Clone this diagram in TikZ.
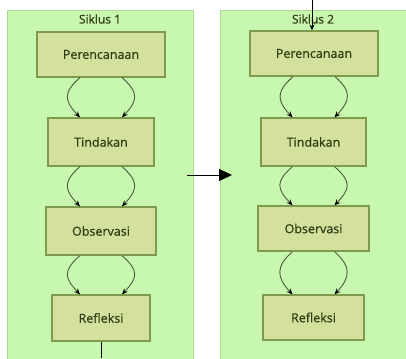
\documentclass[tikz,border=0pt]{standalone}
\usepackage{fontspec}
\setmainfont{Open Sans}
\newfontfamily\labelfont{Open Sans}[FakeBold=0.7]
\usetikzlibrary{arrows.meta}
\definecolor{clusterfill}{HTML}{C8F7B0}
\definecolor{clusterline}{HTML}{ADDB95}
\definecolor{boxfill}{HTML}{D4E19E}
\definecolor{boxline}{HTML}{7F9A4C}
\definecolor{boxtext}{HTML}{2F3D12}
\definecolor{linkline}{HTML}{4C5C3C}
\tikzset{
  cluster/.style={fill=clusterfill, draw=clusterline, line width=0.8pt},
  stepbox/.style={rectangle, fill=boxfill, draw=boxline, line width=1.2pt,
    inner sep=0pt, text=boxtext, font=\labelfont\fontsize{12.5}{14}\selectfont},
  title/.style={text=boxtext, font=\labelfont\fontsize{12}{14}\selectfont},
  link/.style={draw=linkline, line width=0.9pt,
    -{Stealth[length=6pt,width=5pt,color=black,fill=black]}},
  jump/.style={draw=black, line width=1pt,
    -{Triangle[length=13pt,width=12pt,fill=black]}}
}
\begin{document}
\begin{tikzpicture}[x=1pt,y=-1pt]
\useasboundingbox (0,0) rectangle (406,358);
\fill[white] (0,0) rectangle (406,358);

% the two cycle groups
\draw[cluster] (7,10) rectangle (193,362);
\draw[cluster] (220,10) rectangle (410,362);
\node[title] (s1) at (100,19) {Siklus 1};
\node[title] (s2) at (313,19) {Siklus 2};

% cycle 1
\node[stepbox, minimum width=128, minimum height=45] (p1) at (101,54.5) {Perencanaan};
\node[stepbox, minimum width=106, minimum height=48] (t1) at (101,142) {Tindakan};
\node[stepbox, minimum width=110, minimum height=48] (o1) at (101,231) {Observasi};
\node[stepbox, minimum width=98, minimum height=46] (r1) at (101,318) {Refleksi};

% cycle 2
\node[stepbox, minimum width=128, minimum height=45] (p2) at (314,53.5) {Perencanaan};
\node[stepbox, minimum width=105, minimum height=48] (t2) at (313.5,142) {Tindakan};
\node[stepbox, minimum width=111, minimum height=45] (o2) at (313.5,228.5) {Observasi};
\node[stepbox, minimum width=101, minimum height=45] (r2) at (313.5,317.5) {Refleksi};

% paired curved links between consecutive steps
\foreach \a/\b in {p1/t1, t1/o1, o1/r1, p2/t2, t2/o2, o2/r2}{
  \draw[link] ([xshift=-21]\a.south) .. controls +(-17,15) and +(-16,-17) .. ([xshift=-21]\b.north);
  \draw[link] ([xshift=21]\a.south) .. controls +(17,15) and +(16,-17) .. ([xshift=21]\b.north);
}

% links leaving and entering the groups
\coordinate (r1out) at (101,358);
\draw[draw=black, line width=1pt] (r1.south) -- (r1out);
\coordinate (jumpA) at (187,175);
\coordinate (jumpB) at (232,175);
\draw[jump] (jumpA) -- (jumpB);
\coordinate (p2in) at (312,0);
\draw[draw=black, line width=1pt, -{Stealth[length=6pt,width=5pt]}] (p2in) -- (p2in |- p2.north);
\end{tikzpicture}
\end{document}
